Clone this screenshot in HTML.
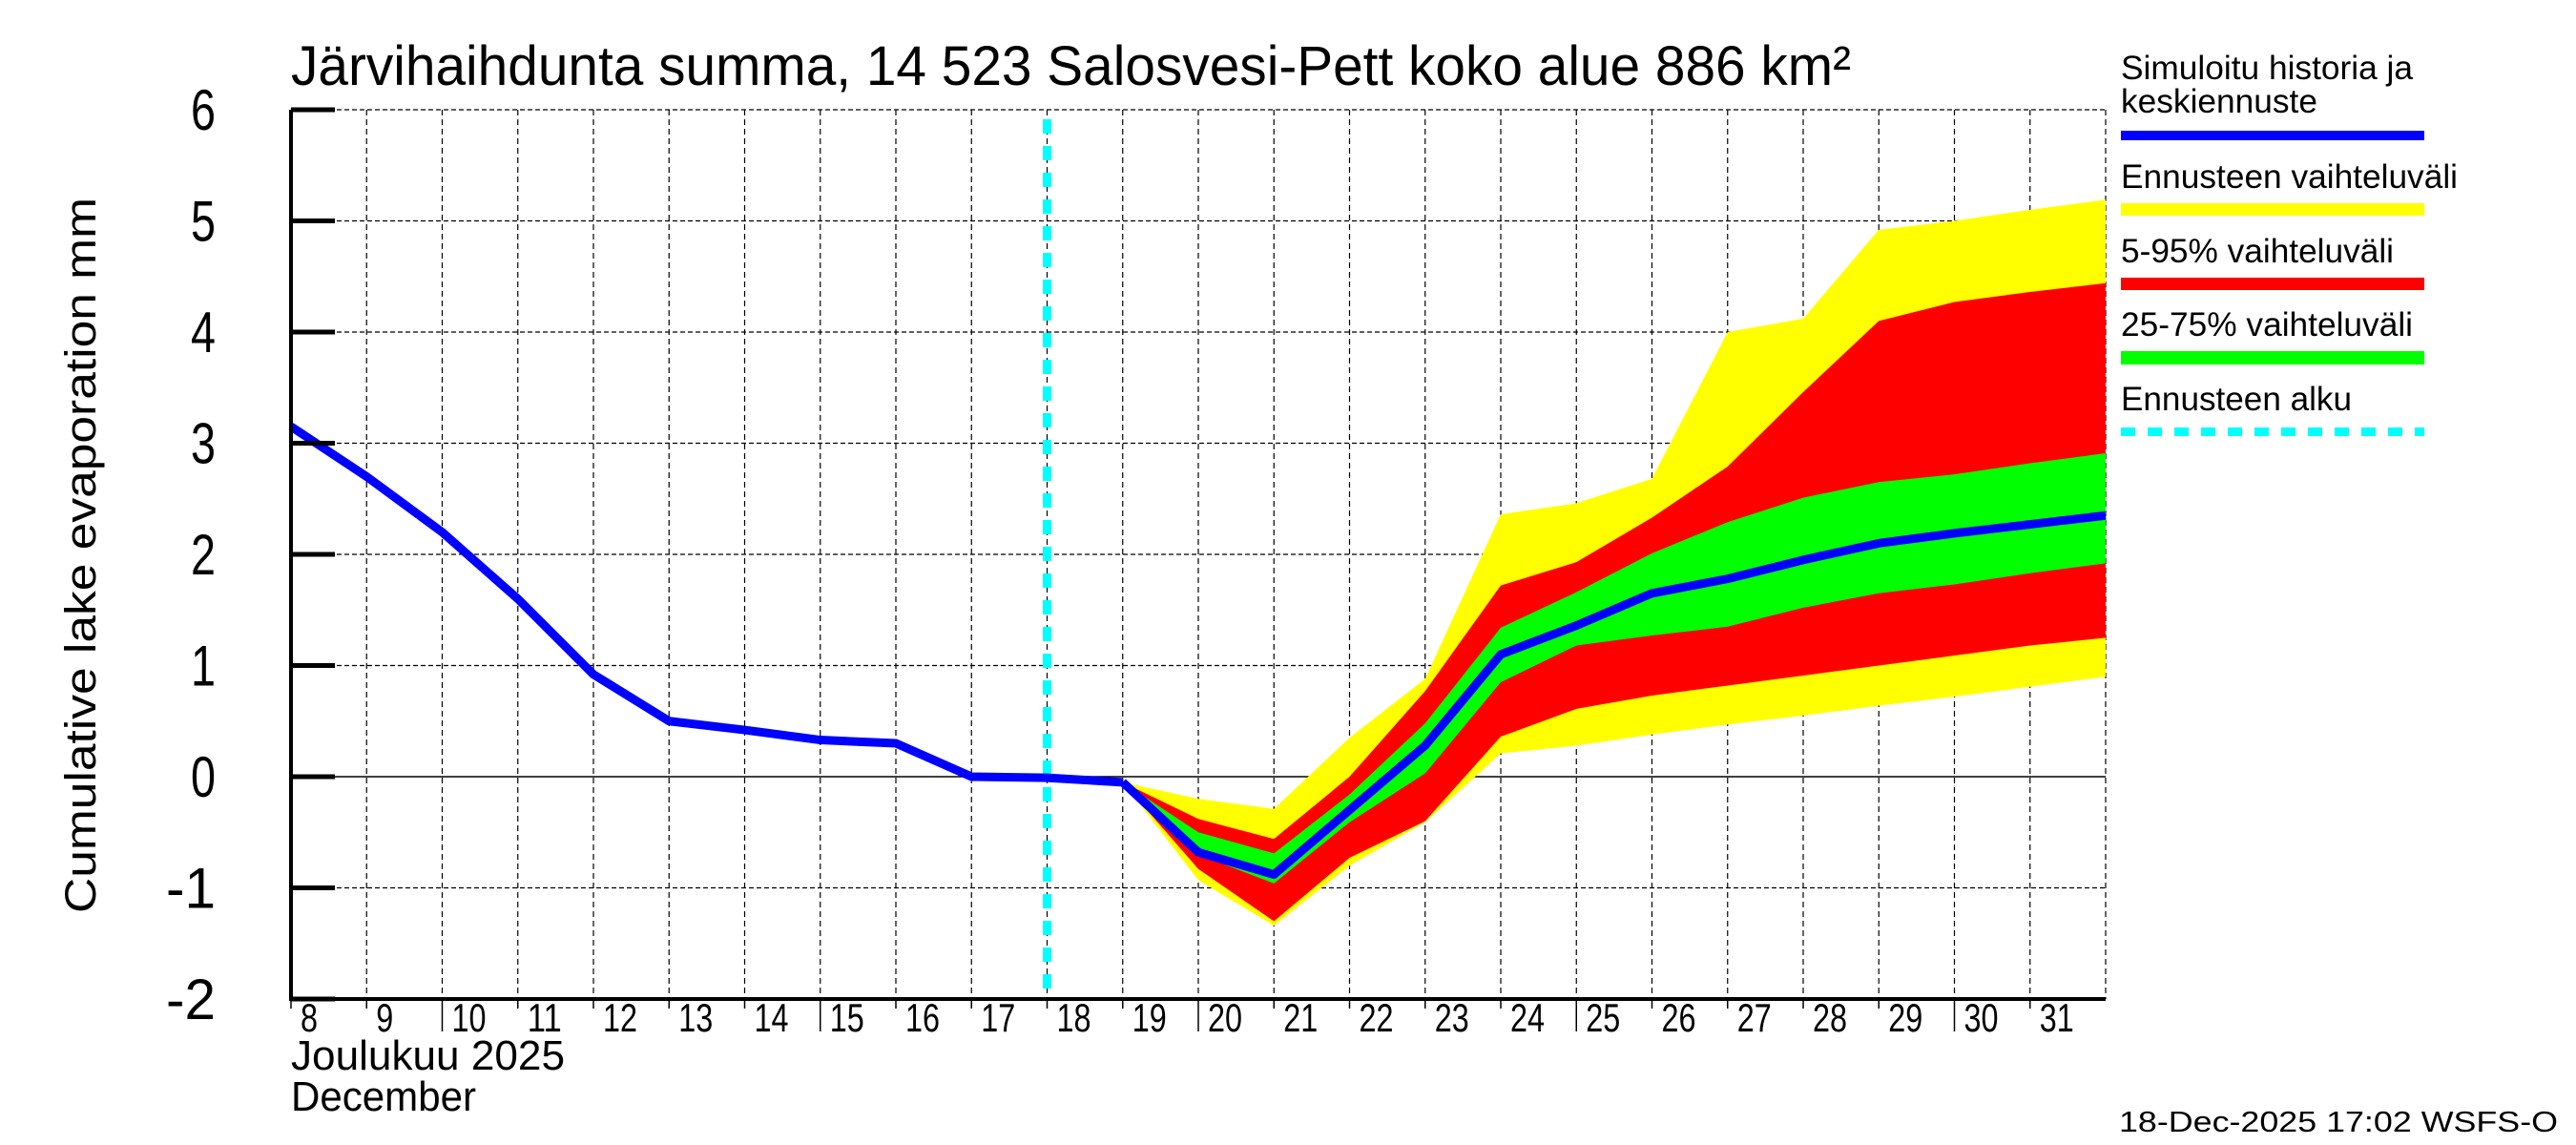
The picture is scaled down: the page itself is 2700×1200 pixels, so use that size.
<!DOCTYPE html>
<html><head><meta charset="utf-8"><style>
html,body{margin:0;padding:0;background:#fff;}
svg{display:block;font-family:"Liberation Sans",sans-serif;}
</style></head><body>
<svg id="chart" width="2700" height="1200" viewBox="0 0 2700 1200" xmlns="http://www.w3.org/2000/svg">
<rect width="2700" height="1200" fill="#fff"/>
<text x="305" y="89" font-size="58" textLength="1635" lengthAdjust="spacingAndGlyphs">Järvihaihdunta summa, 14 523 Salosvesi-Pett koko alue 886 km²</text>
<text transform="translate(100,582) rotate(-90)" text-anchor="middle" font-size="45" textLength="750" lengthAdjust="spacingAndGlyphs">Cumulative lake evaporation   mm</text>
<g id="grid"></g>
<g id="bands"></g>
<g id="lines"></g>
<g id="axes"></g>
<text x="305" y="1121" font-size="44" textLength="287" lengthAdjust="spacingAndGlyphs">Joulukuu  2025</text>
<text x="305" y="1164" font-size="44" textLength="194" lengthAdjust="spacingAndGlyphs">December</text>
<text x="2221" y="1186" font-size="31" textLength="460" lengthAdjust="spacingAndGlyphs">18-Dec-2025 17:02 WSFS-O</text>
<g font-size="35">
<text x="2223" y="83" textLength="306" lengthAdjust="spacingAndGlyphs">Simuloitu historia ja</text>
<text x="2223" y="118" textLength="206" lengthAdjust="spacingAndGlyphs">keskiennuste</text>
<rect x="2223" y="137" width="318" height="10" fill="#0000ff"/>
<text x="2223" y="197" textLength="353" lengthAdjust="spacingAndGlyphs">Ennusteen vaihteluväli</text>
<rect x="2223" y="213" width="318" height="13" fill="#ffff00"/>
<text x="2223" y="275" textLength="286" lengthAdjust="spacingAndGlyphs">5-95% vaihteluväli</text>
<rect x="2223" y="291" width="318" height="13" fill="#ff0000"/>
<text x="2223" y="352" textLength="306" lengthAdjust="spacingAndGlyphs">25-75% vaihteluväli</text>
<rect x="2223" y="368" width="318" height="14" fill="#00ff00"/>
<text x="2223" y="430" textLength="242" lengthAdjust="spacingAndGlyphs">Ennusteen alku</text>
<line x1="2223" y1="452.5" x2="2541" y2="452.5" stroke="#00ffff" stroke-width="9" stroke-dasharray="15,13"/>
</g>
</svg>
<script>
const histDays = [8,9,10,11,12,13,14,15,16,17,18,19];
const histValues = [3.15,2.7,2.2,1.6,0.92,0.5,0.42,0.33,0.3,0.0,-0.01,-0.05];
const fcDays = [19,20,21,22,23,24,25,26,27,28,29,30,31,32];
const medianValues = [-0.05,-0.68,-0.88,-0.3,0.28,1.1,1.36,1.65,1.78,1.95,2.1,2.19,2.27,2.35];
const rangeHigh = [-0.05,-0.2,-0.29,0.35,0.88,2.36,2.46,2.68,4.0,4.12,4.92,5.0,5.1,5.19];
const rangeLow = [-0.05,-0.93,-1.34,-0.8,-0.41,0.21,0.28,0.38,0.47,0.55,0.64,0.72,0.81,0.9];
const p95 = [-0.05,-0.38,-0.56,0.0,0.77,1.72,1.93,2.33,2.79,3.46,4.1,4.27,4.36,4.44];
const p5 = [-0.05,-0.83,-1.3,-0.73,-0.4,0.36,0.61,0.73,0.82,0.91,1.0,1.09,1.18,1.25];
const p75 = [-0.05,-0.5,-0.69,-0.16,0.48,1.34,1.66,2.01,2.29,2.51,2.65,2.72,2.82,2.91];
const p25 = [-0.05,-0.7,-0.96,-0.41,0.03,0.85,1.18,1.27,1.35,1.52,1.65,1.73,1.83,1.92];
const yTicks = [-2,-1,0,1,2,3,4,5,6];
const xTickDays = [8,9,10,11,12,13,14,15,16,17,18,19,20,21,22,23,24,25,26,27,28,29,30,31];
const forecastStartDay = 18;

const NS = "http://www.w3.org/2000/svg";
const X0 = 305, X1 = 2207, Y0 = 115, Y1 = 1047;
const xMin = 8, xMax = 32, yMin = -2, yMax = 6;
const xs = d => X0 + (d - xMin) / (xMax - xMin) * (X1 - X0);
const ys = v => Y1 - (v - yMin) / (yMax - yMin) * (Y1 - Y0);
function mk(tag, attrs, parent) {
  const e = document.createElementNS(NS, tag);
  for (const k in attrs) e.setAttribute(k, attrs[k]);
  parent.appendChild(e);
  return e;
}
const grid = document.getElementById('grid');
const bands = document.getElementById('bands');
const lines = document.getElementById('lines');
const axes = document.getElementById('axes');

yTicks.forEach(v => {
  const l = mk('line', {x1: X0, x2: X1, y1: ys(v), y2: ys(v), stroke: '#000', 'stroke-width': v === 0 ? 1.6 : 1.2, 'stroke-dasharray': v === 0 ? 'none' : '5,3'}, grid);
  
  
  const t = mk('line', {x1: X0, x2: X0 + 46, y1: ys(v), y2: ys(v), stroke: '#000', 'stroke-width': 5}, axes);
  
  
  const tx = mk('text', {x: 226, y: ys(v) + 21, 'text-anchor': 'end', 'font-size': 60, textLength: String(v).length * 26, lengthAdjust: 'spacingAndGlyphs'}, axes);
  tx.textContent = v;
  
  
});
xTickDays.forEach(d => {
  if (d > xMin) {
    const g = mk('line', {x1: xs(d), x2: xs(d), y1: Y0, y2: Y1, stroke: '#000', 'stroke-width': 1.2, 'stroke-dasharray': '6,4'}, grid);
    
    
  }
  const tk = mk('line', {x1: xs(d), x2: xs(d), y1: Y1, y2: Y1 + (d % 5 === 0 ? 34 : 10), stroke: '#000', 'stroke-width': 1.5}, axes);
  
  
  const t = mk('text', {x: xs(d) + 10, y: 1081, 'font-size': 42, textLength: String(d).length * 18, lengthAdjust: 'spacingAndGlyphs'}, axes);
  t.textContent = d;
  
  
});
const rg = mk('line', {x1: X1, x2: X1, y1: Y0, y2: Y1, stroke: '#000', 'stroke-width': 1.2, 'stroke-dasharray': '6,4'}, grid);



function band(hi, lo, color, name) {
  const pts = fcDays.map((d, i) => xs(d) + ',' + ys(hi[i]))
    .concat(fcDays.slice().reverse().map((d, j) => xs(d) + ',' + ys(lo[fcDays.length - 1 - j])));
  const p = mk('polygon', {points: pts.join(' '), fill: color}, bands);
  
  
}
band(rangeHigh, rangeLow, '#ffff00', 'band-full-range');
band(p95, p5, '#ff0000', 'band-5-95');
band(p75, p25, '#00ff00', 'band-25-75');

const cy = mk('line', {x1: xs(forecastStartDay), x2: xs(forecastStartDay), y1: Y0 + 10, y2: Y1, stroke: '#00ffff', 'stroke-width': 9, 'stroke-dasharray': '15,13'}, lines);



const hp = mk('polyline', {points: histDays.map((d, i) => xs(d) + ',' + ys(histValues[i])).join(' '), fill: 'none', stroke: '#0000ff', 'stroke-width': 9, 'stroke-linejoin': 'round'}, lines);


const mp = mk('polyline', {points: fcDays.map((d, i) => xs(d) + ',' + ys(medianValues[i])).join(' '), fill: 'none', stroke: '#0000ff', 'stroke-width': 9, 'stroke-linejoin': 'round'}, lines);



const ya = mk('line', {x1: X0, x2: X0, y1: Y0, y2: Y1 + 2, stroke: '#000', 'stroke-width': 4}, axes);


const xa = mk('line', {x1: X0 - 2, x2: X1, y1: Y1, y2: Y1, stroke: '#000', 'stroke-width': 4}, axes);


</script>
</body></html>
